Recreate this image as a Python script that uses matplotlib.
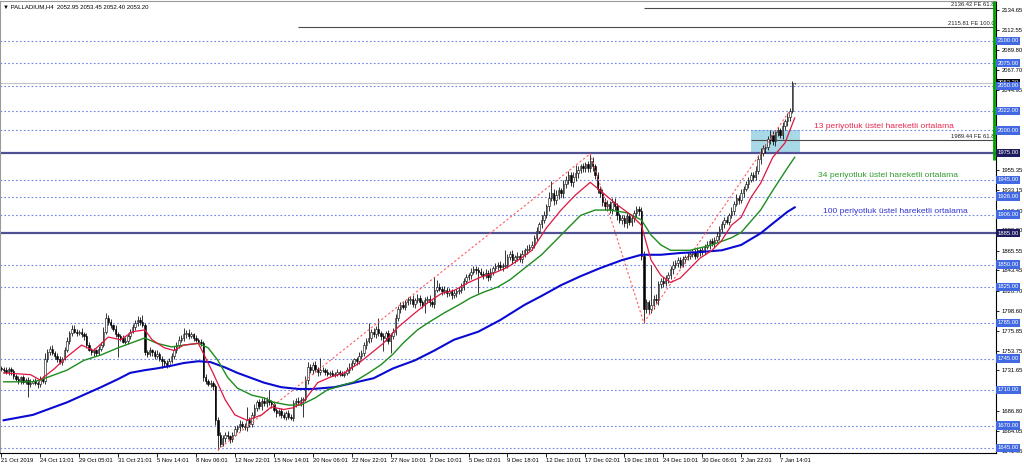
import matplotlib
matplotlib.use("Agg")
import matplotlib.pyplot as plt
import matplotlib.transforms as mtransforms
from matplotlib.patches import Rectangle
import numpy as np

plt.rcParams['font.family'] = ['Liberation Sans', 'DejaVu Sans']

# ---------------- data ----------------
title_text = "\u25BC PALLADIUM,H4  2052.95 2053.45 2052.40 2053.20"

date_labels = ["21 Oct 2019", "24 Oct 13:01", "29 Oct 05:01", "31 Oct 21:01", "5 Nov 14:01",
               "8 Nov 06:01", "12 Nov 22:01", "15 Nov 14:01", "20 Nov 06:01", "22 Nov 22:01",
               "27 Nov 10:01", "2 Dec 10:01", "5 Dec 02:01", "9 Dec 18:01", "12 Dec 10:01",
               "17 Dec 02:01", "19 Dec 18:01", "24 Dec 10:01", "30 Dec 06:01", "2 Jan 22:01",
               "7 Jan 14:01"]
bars_per_label = 16

first_open = 1734
closes = [
    1733, 1732, 1730, 1733, 1731, 1725, 1722, 1720, 1724, 1719, 1721, 1716, 1718, 1720, 1718, 1716, 1722, 1720, 1745, 1752,
    1756, 1751, 1748, 1744, 1741, 1745, 1755, 1765, 1773, 1778, 1775, 1773, 1775, 1772, 1770, 1760, 1755, 1752, 1754, 1751,
    1756, 1760, 1775, 1790, 1786, 1782, 1778, 1772, 1770, 1768, 1764, 1765, 1770, 1775, 1780, 1785, 1788, 1786, 1782, 1752,
    1750, 1754, 1752, 1748, 1750, 1745, 1742, 1740, 1738, 1742, 1748, 1755, 1760, 1766, 1768, 1772, 1774, 1770, 1772, 1768,
    1766, 1764, 1762, 1724, 1720, 1716, 1718, 1714, 1676, 1660, 1650, 1656, 1660, 1658, 1655, 1660, 1666, 1668, 1672, 1670,
    1668, 1676, 1672, 1682, 1690, 1696, 1692, 1698, 1695, 1699, 1696, 1694, 1688, 1684, 1686, 1682, 1680, 1684, 1680, 1678,
    1695, 1698, 1696, 1699, 1700, 1721, 1735, 1732, 1738, 1733, 1730, 1732, 1732, 1730, 1728, 1729, 1727, 1728, 1730, 1728,
    1727, 1729, 1732, 1736, 1740, 1744, 1742, 1748, 1751, 1760, 1765, 1768, 1775, 1772, 1778, 1773, 1770, 1768, 1773, 1765,
    1770, 1775, 1790, 1800, 1805, 1803, 1808, 1810, 1812, 1806, 1810, 1813, 1808, 1805, 1810, 1812, 1808, 1806, 1822, 1825,
    1823, 1820, 1822, 1818, 1820, 1816, 1818, 1820, 1822, 1825, 1832, 1836, 1838, 1842, 1845, 1844, 1842, 1840, 1838, 1841,
    1836, 1842, 1846, 1848, 1850, 1847, 1849, 1850, 1858, 1862, 1855, 1858, 1860, 1856, 1862, 1866, 1868, 1870, 1872, 1880,
    1888, 1895, 1900, 1906, 1915, 1925, 1930, 1922, 1928, 1933, 1930, 1940, 1945, 1950, 1942, 1948, 1952, 1956, 1960, 1958,
    1962, 1958, 1966, 1960, 1950, 1935, 1930, 1920, 1915, 1918, 1912, 1920, 1915, 1905, 1900, 1902, 1896, 1904, 1898, 1902,
    1908, 1912, 1910, 1860, 1800, 1808, 1800, 1805, 1812, 1810, 1828, 1832, 1830, 1835, 1838, 1845, 1850, 1852, 1855, 1850,
    1856, 1858, 1860, 1862, 1864, 1860, 1866, 1864, 1866, 1870, 1872, 1876, 1874, 1878, 1882, 1890, 1895, 1900, 1898, 1905,
    1910, 1918, 1925, 1922, 1930, 1935, 1940, 1945, 1950, 1948, 1955, 1968, 1975, 1980, 1982, 1990, 1995, 1988, 1998, 2000,
    1995, 2005, 2010, 2015, 2022, 2052.95, 2053.20,
]
wick_up = [
    3, 2, 4, 2, 3, 2, 3, 4, 2, 3, 2, 3, 4, 2, 3, 2, 4, 3, 6, 4,
    3, 4, 2, 3, 4, 2, 3, 4, 3, 4, 4, 3, 2, 4, 3, 3, 4, 2, 3, 2,
    3, 4, 5, 6, 4, 3, 2, 4, 3, 2, 3, 4, 3, 3, 4, 3, 4, 3, 8, 3,
    3, 4, 2, 3, 4, 2, 3, 2, 3, 4, 3, 4, 3, 4, 3, 7, 3, 4, 3, 2,
    3, 2, 3, 3, 4, 2, 3, 2, 3, 4, 3, 4, 3, 4, 2, 3, 4, 3, 4, 3,
    3, 15, 4, 3, 4, 3, 4, 3, 4, 3, 11, 3, 4, 2, 3, 4, 3, 2, 3, 3,
    4, 3, 4, 3, 2, 5, 6, 4, 3, 4, 3, 14, 3, 2, 3, 2, 3, 2, 3, 2,
    3, 2, 3, 4, 3, 2, 3, 4, 3, 4, 3, 17, 3, 4, 3, 12, 3, 4, 3, 4,
    3, 4, 5, 4, 3, 4, 3, 4, 3, 4, 3, 4, 3, 3, 4, 3, 4, 3, 14, 8,
    4, 3, 4, 3, 4, 3, 4, 3, 3, 4, 3, 4, 3, 4, 3, 4, 3, 4, 3, 4,
    3, 4, 3, 4, 3, 4, 3, 16, 4, 3, 4, 3, 4, 3, 4, 3, 4, 3, 4, 3,
    4, 3, 5, 4, 3, 6, 14, 4, 5, 4, 3, 5, 4, 5, 4, 5, 9, 4, 3, 4,
    3, 4, 8, 4, 3, 4, 3, 4, 5, 4, 3, 4, 5, 4, 3, 4, 3, 4, 3, 4,
    3, 4, 3, 4, 5, 4, 3, 45, 4, 5, 4, 3, 4, 3, 4, 3, 4, 3, 4, 3,
    4, 3, 4, 3, 4, 3, 4, 3, 4, 3, 4, 3, 4, 3, 4, 3, 4, 3, 4, 3,
    4, 3, 4, 3, 4, 3, 4, 3, 4, 3, 5, 4, 5, 4, 3, 4, 5, 4, 3, 4,
    3, 4, 3, 4, 3, 2, 0.25,
]
wick_dn = [
    2, 3, 2, 3, 4, 3, 2, 3, 4, 3, 2, 14, 3, 2, 3, 4, 3, 2, 3, 4,
    3, 2, 4, 3, 2, 3, 2, 3, 4, 3, 2, 3, 2, 3, 4, 3, 2, 3, 4, 3,
    2, 3, 2, 3, 4, 3, 2, 3, 23, 3, 2, 3, 4, 3, 2, 3, 4, 3, 2, 3,
    3, 2, 4, 3, 2, 3, 8, 3, 4, 3, 2, 3, 4, 3, 2, 3, 4, 3, 2, 3,
    3, 2, 3, 4, 3, 2, 3, 4, 5, 17, 4, 3, 4, 3, 4, 3, 2, 3, 4, 3,
    3, 4, 3, 4, 3, 4, 3, 4, 3, 4, 3, 4, 3, 4, 3, 4, 3, 4, 3, 2,
    3, 4, 3, 4, 19, 3, 4, 3, 4, 3, 4, 3, 2, 3, 2, 3, 2, 3, 2, 3,
    2, 3, 2, 3, 4, 3, 4, 3, 4, 3, 4, 3, 4, 3, 4, 3, 4, 15, 3, 4,
    14, 3, 4, 3, 4, 3, 4, 3, 4, 3, 4, 3, 4, 3, 9, 3, 4, 3, 4, 3,
    3, 4, 3, 4, 3, 4, 3, 4, 3, 4, 3, 4, 3, 4, 3, 4, 24, 3, 4, 3,
    4, 3, 4, 3, 4, 3, 4, 3, 4, 3, 4, 3, 4, 3, 4, 3, 4, 3, 4, 3,
    4, 3, 4, 3, 4, 5, 4, 5, 4, 5, 4, 5, 4, 5, 4, 5, 4, 5, 4, 5,
    4, 5, 4, 5, 4, 5, 4, 5, 4, 5, 4, 5, 4, 5, 4, 5, 4, 5, 4, 5,
    4, 5, 4, 5, 15, 4, 5, 4, 5, 4, 5, 4, 5, 4, 5, 4, 5, 4, 5, 4,
    3, 4, 3, 4, 3, 4, 3, 4, 3, 4, 3, 4, 3, 4, 3, 4, 3, 4, 3, 4,
    3, 4, 3, 4, 3, 4, 3, 4, 3, 4, 3, 4, 5, 4, 5, 4, 5, 4, 5, 4,
    4, 5, 4, 5, 4, 3, 0.55,
]

# moving averages (bar index, price)
ema13_bars = [1, 12, 16, 22, 27, 33, 38, 44, 49, 54, 59, 62, 67, 71, 75, 81, 83, 87, 92, 96, 101, 107, 111,
              116, 120, 124, 130, 135, 141, 147, 152, 157, 163, 170, 175, 181, 186, 192, 197, 202, 208, 214,
              218, 224, 230, 236, 242, 246, 253, 259, 263, 267, 271, 275, 279, 283, 287, 292, 296, 300, 304,
              308, 312, 317, 322, 324, 326]
ema13_vals = [1729, 1727, 1721, 1734, 1747, 1760, 1754, 1769, 1766, 1775, 1777, 1766, 1757, 1754, 1760, 1762,
              1751, 1729, 1699, 1682, 1676, 1682, 1691, 1688, 1690, 1696, 1718, 1724, 1729, 1740, 1751, 1762,
              1780, 1796, 1807, 1818, 1821, 1830, 1836, 1840, 1847, 1858, 1866, 1891, 1911, 1928, 1942, 1933,
              1917, 1905, 1894, 1855, 1838, 1830, 1835, 1846, 1857, 1866, 1877, 1894, 1903, 1925, 1941, 1970,
              1986, 2000, 2014]
ema34_bars = [1, 13, 16, 22, 27, 34, 41, 48, 54, 59, 64, 70, 75, 81, 85, 89, 93, 97, 103, 108, 112, 118, 123,
              129, 134, 140, 145, 151, 156, 161, 165, 171, 176, 182, 188, 193, 198, 204, 209, 215, 222, 230,
              238, 244, 250, 257, 263, 267, 271, 275, 283, 292, 300, 304, 312, 317, 323, 326]
ema34_vals = [1719, 1719, 1721, 1727, 1732, 1743, 1749, 1757, 1763, 1768, 1762, 1758, 1760, 1762, 1757, 1743,
              1724, 1712, 1704, 1701, 1696, 1693, 1693, 1701, 1710, 1715, 1719, 1729, 1738, 1750, 1762, 1777,
              1786, 1796, 1805, 1813, 1819, 1825, 1833, 1846, 1861, 1883, 1905, 1911, 1911, 1908, 1900, 1883,
              1872, 1866, 1866, 1872, 1880, 1886, 1911, 1933, 1958, 1970]
ema100_bars = [1, 13, 27, 41, 48, 53, 59, 64, 70, 75, 81, 86, 92, 97, 103, 108, 115, 122, 128, 137, 145, 153,
               161, 170, 178, 186, 196, 205, 215, 222, 230, 238, 246, 255, 263, 271, 279, 287, 296, 304, 312,
               317, 323, 326]
ema100_vals = [1676, 1682, 1696, 1713, 1722, 1729, 1732, 1734, 1737, 1740, 1742, 1741, 1735, 1729, 1723, 1718,
               1713, 1711, 1711, 1713, 1718, 1723, 1734, 1743, 1754, 1766, 1775, 1788, 1805, 1815, 1827, 1837,
               1846, 1855, 1861, 1861, 1863, 1864, 1866, 1872, 1885, 1896, 1909, 1914]

dotted_levels = [2100, 2075, 2050, 2022, 2000, 1945, 1926, 1906, 1850, 1825, 1785, 1745, 1710, 1670, 1645]
solid_levels = [1975, 1885]
bid_price = 2053.20
price_ticks = [2134.65, 2112.55, 2089.80, 2067.70, 2044.95, 2022.85, 2000.10, 1978.00, 1955.35, 1933.15,
               1910.40, 1888.30, 1865.55, 1843.45, 1820.70, 1798.60, 1775.85, 1753.75, 1731.65, 1708.90,
               1686.80, 1664.05, 1641.95]
# tick labels that sit completely under a price tag in the chart
covered_ticks = [2022.85, 2000.10, 1978.00, 1708.90]

fe_prices = [2136.42, 2115.81, 1989.44]
fe_texts = ["2136.42 FE 61.8", "2115.81 FE 100.0", "1989.44 FE 61.8"]
fe_start_bars = [264, 122, 308]
swing_bars = [89, 242, 264, 324]
swing_prices = [1643, 1974, 1785, 2022]
zone_bars = [308, 328]
zone_prices = [1975, 2000]

ma_notes = ["13 periyotluk \u00fcstel hareketli ortalama",
            "34 periyotluk \u00fcstel hareketli ortalama",
            "100 periyotluk \u00fcstel hareketli ortalama"]
ma_note_prices = [2004, 1950, 1909]

# ---------------- figure ----------------
W, H = 1024, 466
fig = plt.figure(figsize=(W / 100, H / 100), dpi=100)
fig.patch.set_facecolor('white')
ax = fig.add_axes([0, 13 / H, 996 / W, 452 / H])
ax.set_facecolor('white')

n = len(closes)
idx = np.arange(n)
c = np.array(closes, dtype=float)
o = np.concatenate([[first_open], c[:-1]])
hi = np.maximum(o, c) + np.array(wick_up, dtype=float)
lo = np.minimum(o, c) - np.array(wick_dn, dtype=float)

ax.set_xlim(-0.5, 408.7)
ax.set_ylim(1639.4, 2144.7)

# zone rectangle
ax.add_patch(Rectangle((zone_bars[0], zone_prices[0]), zone_bars[1] - zone_bars[0],
                       zone_prices[1] - zone_prices[0], facecolor='#a9d9e6', edgecolor='none', zorder=1))

# levels
for lv in dotted_levels:
    ax.axhline(lv, color='#6c86e6', lw=0.8, ls=(0, (1.5, 2.0)), zorder=1.2)
for lv in solid_levels:
    ax.axhline(lv, color='#505094', lw=1.6, zorder=1.3)
ax.axhline(bid_price, color='#c4c4c4', lw=0.8, zorder=1.1)

# FE lines
for p, t, sb in zip(fe_prices, fe_texts, fe_start_bars):
    ax.plot([sb, 408.7], [p, p], color='#4a4a4a', lw=0.8, zorder=1.4, solid_capstyle='butt')
    ax.text(0.9985, p + 1.2, t, transform=mtransforms.blended_transform_factory(ax.transAxes, ax.transData),
            ha='right', va='bottom', fontsize=4.2, color='#202020', zorder=4)

# swing dotted lines
ax.plot(swing_bars, swing_prices, color='#ff5c5c', lw=0.8, ls=(0, (2, 2)), zorder=2.2)

# candles
ax.vlines(idx, lo, hi, color='black', lw=0.55, zorder=2)
bull = c >= o
body_h = np.abs(c - o)
ax.bar(idx, body_h, bottom=np.minimum(o, c), width=0.6,
       color=np.where(bull, 'white', 'black'), edgecolor='black', linewidth=0.4, zorder=2.1)

# EMAs
ax.plot(ema100_bars, ema100_vals, color='#0a0ad2', lw=1.5, zorder=3)
ax.plot(ema34_bars, ema34_vals, color='#1c8c1c', lw=1.0, zorder=3.1)
ax.plot(ema13_bars, ema13_vals, color='#e0153f', lw=0.9, zorder=3.2)

# MA notes
note_cols = ['#e8284e', '#2e9a2e', '#3232d2']
note_bars = [334, 335.5, 337.5]
for t, p, col, b in zip(ma_notes, ma_note_prices, note_cols, note_bars):
    ax.text(b, p, t, color=col, fontsize=6.1, ha='left', va='center', zorder=4)

# title
ax.text(0.003, 0.993, title_text, transform=ax.transAxes, ha='left', va='top', fontsize=4.3, color='black')

# green range marker at right edge
ax.plot([407.9, 407.9], [1967, 2144.7], color='#00a000', lw=2.0, zorder=4, solid_capstyle='butt')

# axes styling
for s in ['left', 'top']:
    ax.spines[s].set_color('#9a9a9a')
    ax.spines[s].set_linewidth(0.8)
for s in ['right', 'bottom']:
    ax.spines[s].set_color('black')
    ax.spines[s].set_linewidth(0.8)

ax.set_xticks([k * bars_per_label for k in range(len(date_labels))])
ax.set_xticklabels(date_labels)
ax.tick_params(axis='x', direction='out', length=3, width=0.6, pad=0.5, labelsize=4.2, colors='black')
for lbl in ax.get_xticklabels():
    lbl.set_ha('left')

ax.yaxis.tick_right()
ax.set_yticks(price_ticks)
ax.set_yticklabels(["" if v in covered_ticks else f"{v:.2f}" for v in price_ticks])
ax.tick_params(axis='y', direction='out', length=2.5, width=0.6, pad=1.5, labelsize=4.2, colors='black')

# price labels on right axis
tr = mtransforms.blended_transform_factory(ax.transAxes, ax.transData) + \
    mtransforms.ScaledTranslation(1.5 / 100, 0, fig.dpi_scale_trans)


def price_tag(p, fc, z):
    ax.text(1.0, p, f"{p:.2f}", transform=tr, ha='left', va='center', fontsize=4.2, color='white',
            bbox=dict(boxstyle='square,pad=0.28', fc=fc, ec='none'), clip_on=False, zorder=z)


price_tag(bid_price, 'black', 5)
for lv in dotted_levels:
    price_tag(lv, '#4169e1', 6)
for lv in solid_levels:
    price_tag(lv, '#1c1c5e', 6)

fig.savefig('out.png', dpi=100)
